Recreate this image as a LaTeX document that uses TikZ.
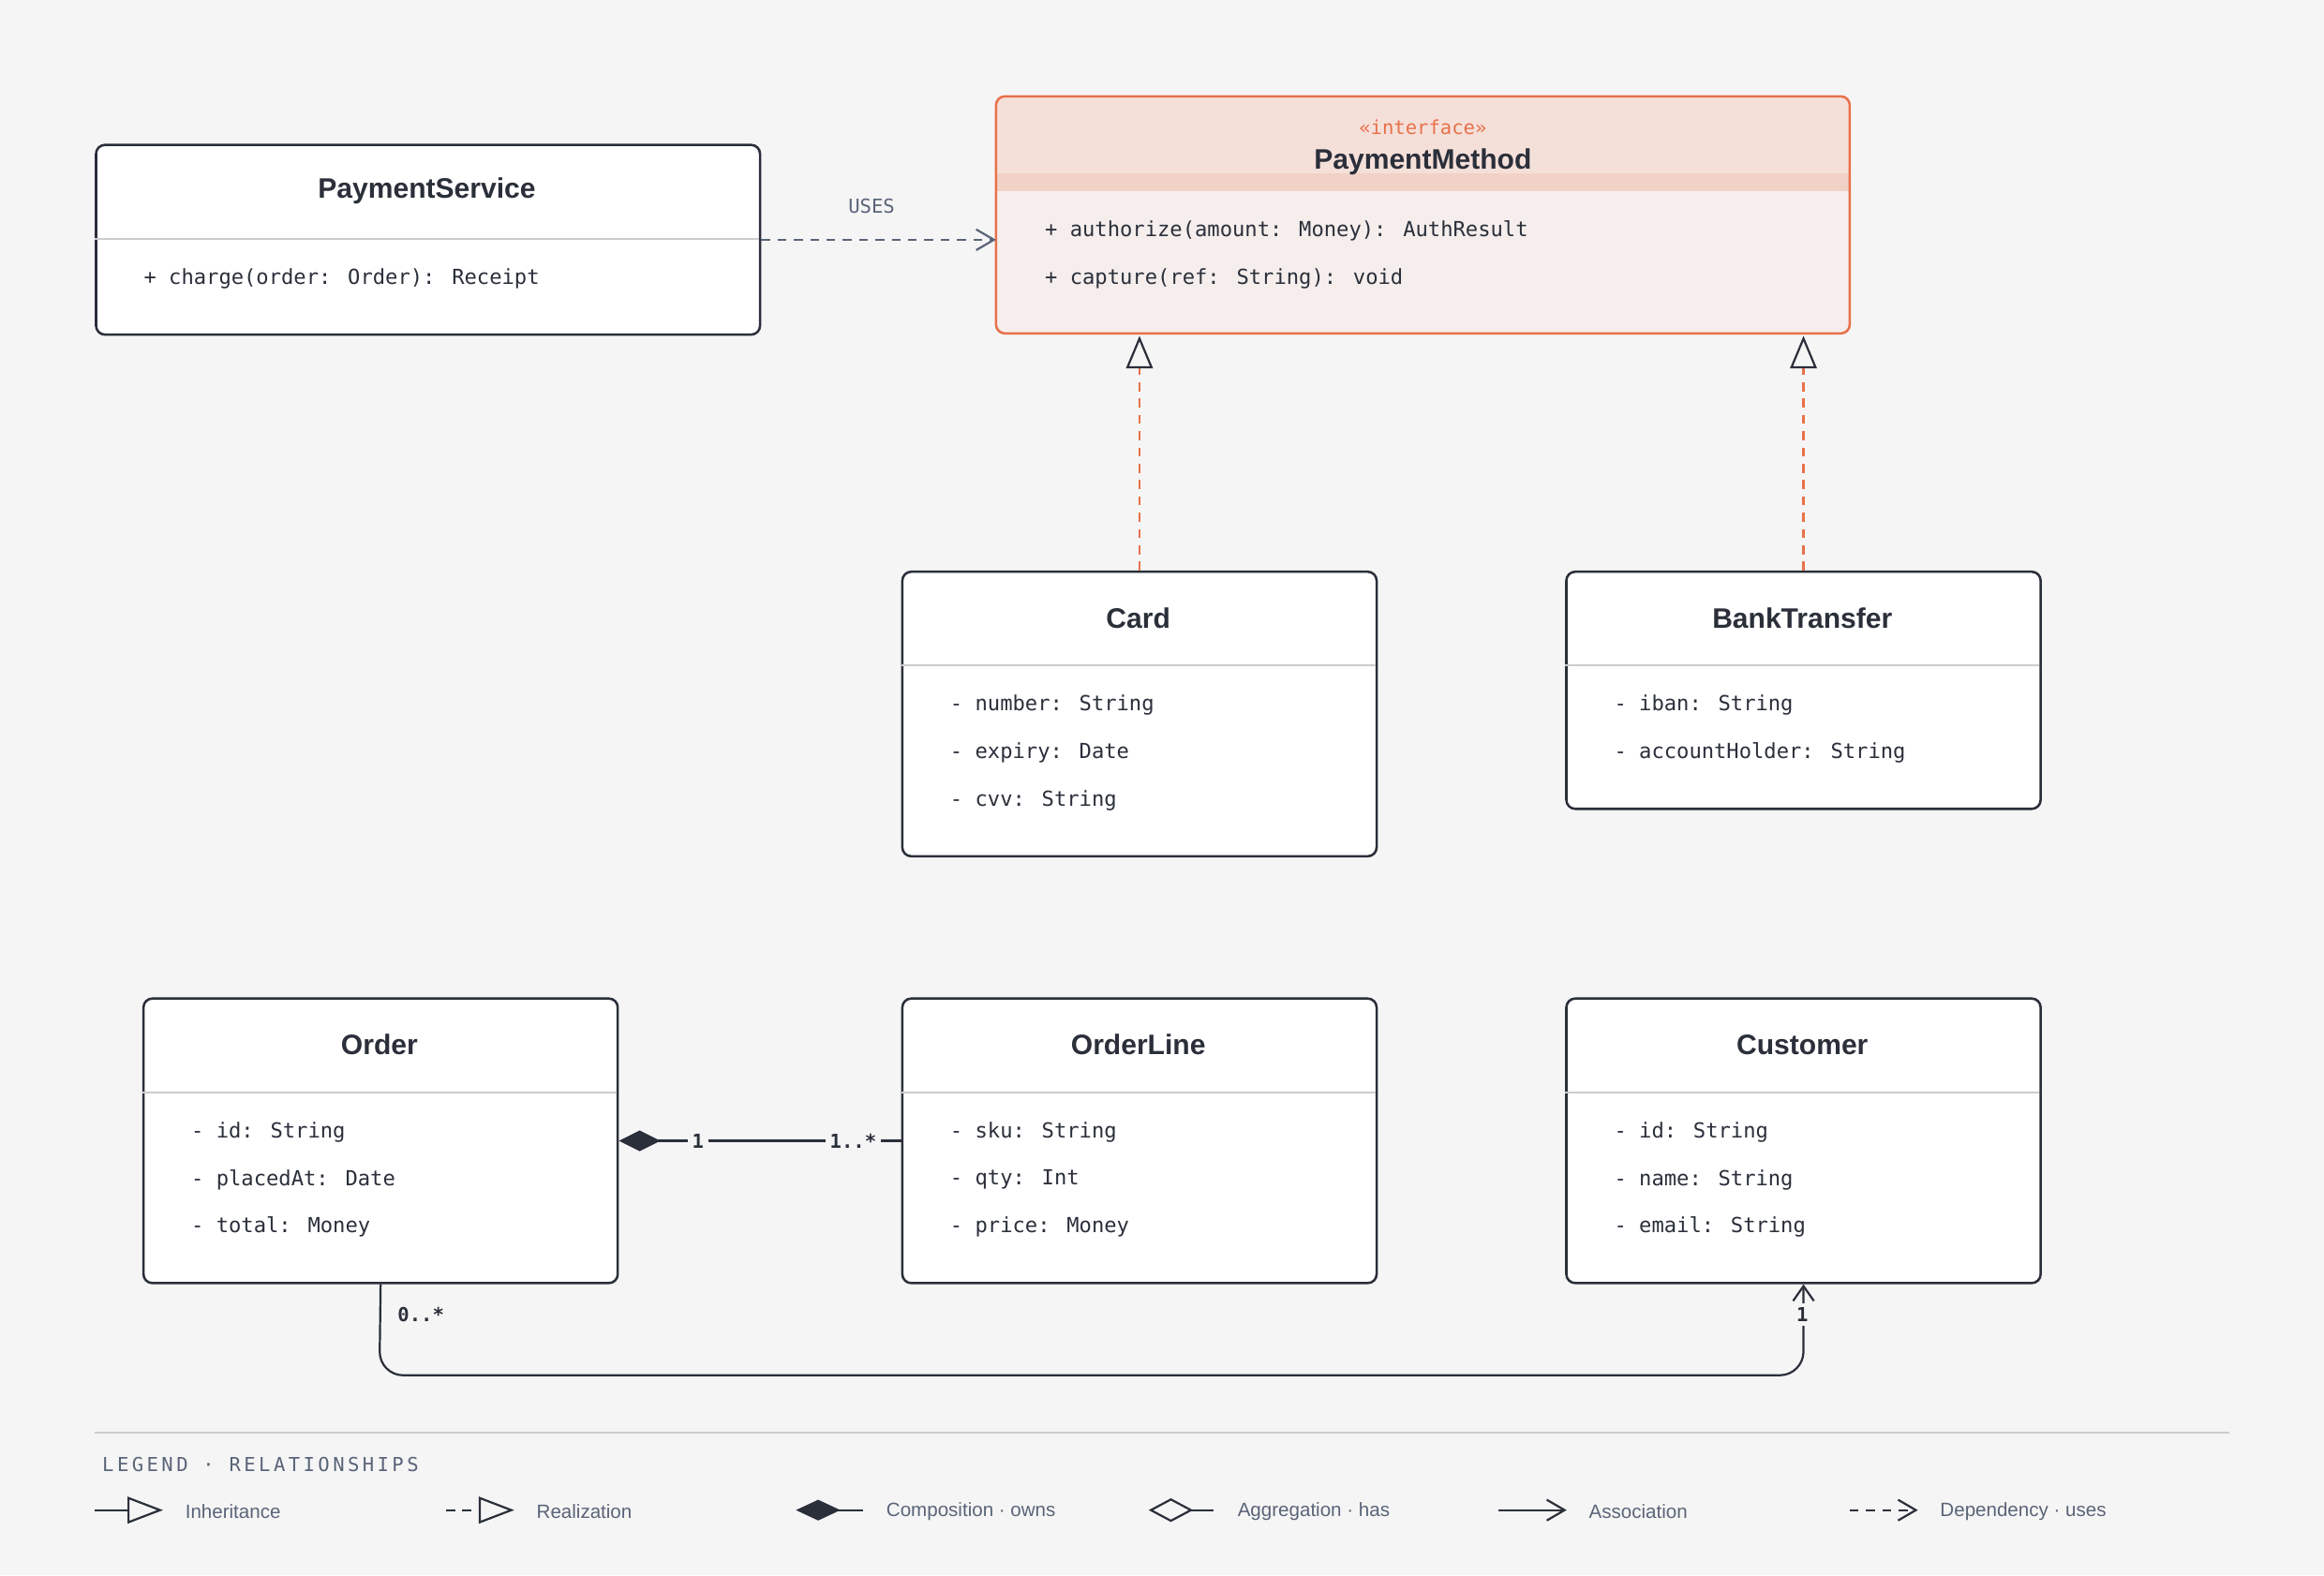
\documentclass[tikz,border=0pt]{standalone}
\usepackage{fontspec}
\setmainfont{Liberation Sans}
\newfontfamily\mono{DejaVu Sans Mono}
\usetikzlibrary{arrows.meta}
\definecolor{bg}{HTML}{F5F5F5}
\definecolor{ink}{HTML}{2A2F3A}
\definecolor{org}{HTML}{E8714A}
\definecolor{hdr}{HTML}{F5E0D9}
\definecolor{hdr2}{HTML}{F2D2C6}
\definecolor{bdy}{HTML}{F5EEEC}
\definecolor{gry}{HTML}{5A6478}
\definecolor{div}{HTML}{CCCCCC}
\tikzset{
  x=0.5pt,y=-0.5pt,
  box/.style={draw=ink,line width=0.8pt,fill=white,rounded corners=3pt,anchor=north west,inner sep=0},
  ttl/.style={font=\bfseries\fontsize{9.5}{11}\selectfont,text=ink},
  attr/.style={font=\mono\fontsize{7}{8}\selectfont,text=ink,anchor=west},
  dv/.style={draw=div,line width=0.6pt},
  lbl/.style={font=\mono\bfseries\fontsize{6.5}{7}\selectfont,text=ink,fill=bg,inner sep=1.5pt},
  leg/.style={font=\fontsize{6.5}{8}\selectfont,text=gry,anchor=west},
  lline/.style={draw=ink,line width=0.7pt},
}
\begin{document}
\begin{tikzpicture}
\fill[bg] (0,0) rectangle (1568,1063);
\useasboundingbox (0,0) rectangle (1568,1063);
% PaymentService
\node[box,minimum width=224pt,minimum height=64pt] (ps) at (64,97) {};
\draw[dv] (64,161) -- (512,161);
\node[ttl] at (288,129) {PaymentService};
\node[attr] at (90,188) {+ charge(order: Order): Receipt};
% PaymentMethod
\node[box,fill=bdy,draw=none,minimum width=288pt,minimum height=80pt] (pm) at (672,65) {};
\begin{scope}
\clip[rounded corners=3pt] (672,65) rectangle (1248,225);
\fill[hdr] (672,65) rectangle (1248,129);
\fill[hdr2] (672,117) rectangle (1248,129);
\end{scope}
\draw[org,line width=0.8pt,rounded corners=3pt] (672,65) rectangle (1248,225);
\node[font=\mono\fontsize{6.5}{7}\selectfont,text=org] at (960,86) {«interface»};
\node[ttl] at (960,109) {PaymentMethod};
\node[attr] at (698,156) {+ authorize(amount: Money): AuthResult};
\node[attr] at (698,188) {+ capture(ref: String): void};
% Card
\node[box,minimum width=160pt,minimum height=96pt] (card) at (608,385) {};
\draw[dv] (608,449) -- (928,449);
\node[ttl] at (768,417) {Card};
\node[attr] at (634,476) {- number: String};
\node[attr] at (634,508) {- expiry: Date};
\node[attr] at (634,540) {- cvv: String};
% BankTransfer
\node[box,minimum width=160pt,minimum height=80pt] (bank) at (1056,385) {};
\draw[dv] (1056,449) -- (1376,449);
\node[ttl] at (1216,417) {BankTransfer};
\node[attr] at (1082,476) {- iban: String};
\node[attr] at (1082,508) {- accountHolder: String};
% Order
\node[box,minimum width=160pt,minimum height=96pt] (order) at (96,673) {};
\draw[dv] (96,737) -- (416,737);
\node[ttl] at (256,705) {Order};
\node[attr] at (122,764) {- id: String};
\node[attr] at (122,796) {- placedAt: Date};
\node[attr] at (122,828) {- total: Money};
% OrderLine
\node[box,minimum width=160pt,minimum height=96pt] (ol) at (608,673) {};
\draw[dv] (608,737) -- (928,737);
\node[ttl] at (768,705) {OrderLine};
\node[attr] at (634,764) {- sku: String};
\node[attr] at (634,796) {- qty: Int};
\node[attr] at (634,828) {- price: Money};
% Customer
\node[box,minimum width=160pt,minimum height=96pt] (cust) at (1056,673) {};
\draw[dv] (1056,737) -- (1376,737);
\node[ttl] at (1216,705) {Customer};
\node[attr] at (1082,764) {- id: String};
\node[attr] at (1082,796) {- name: String};
\node[attr] at (1082,828) {- email: String};
% Realizations
\draw[org,line width=0.7pt,dash pattern=on 3pt off 2.5pt,-{Triangle[open,length=11pt,width=9pt,color=ink]}] (card.north) -- (card.north |- pm.south);
\draw[org,line width=0.7pt,dash pattern=on 3pt off 2.5pt,-{Triangle[open,length=11pt,width=9pt,color=ink]}] (bank.north) -- (bank.north |- pm.south);
% Uses
\draw[gry,line width=0.7pt,dash pattern=on 3pt off 2.5pt,-{Straight Barb[length=6pt,width=7pt]}] (ps.east) -- (ps.east -| pm.west);
\node[font=\mono\fontsize{6.5}{7}\selectfont,text=gry] (uses) at (588,139) {USES};
% Composition
\draw[lline,{Diamond[length=14pt,width=7pt,fill=ink]}-] (order.east) -- (ol.west)
  node[lbl,pos=0.28] (m1) {1} node[lbl,pos=0.83] (m2) {1..*};
% Association
\coordinate (a1) at (256,928);
\draw[lline,rounded corners=8pt,-{Straight Barb[length=5pt,width=7pt]}] (order.south) -- (a1) -- (a1 -| cust.south) -- (cust.south);
\node[lbl,fill=none] (m3) at (284,887) {0..*};
\node[lbl] (m4) at (1216,887) {1};
% Legend
\draw[div,line width=0.6pt] (64,967) -- (1504,967);
\node[font=\mono\fontsize{6.5}{7}\selectfont,text=gry,anchor=west] (lg) at (62,988) {L\,E\,G\,E\,N\,D \,·\, R\,E\,L\,A\,T\,I\,O\,N\,S\,H\,I\,P\,S};
\coordinate (l1a) at (64,1019); \coordinate (l1b) at (110,1019);
\draw[lline,-{Triangle[open,length=12pt,width=9pt]}] (l1a) -- (l1b);
\node[leg] (t1) at (118,1020) {Inheritance};
\coordinate (l2a) at (301,1019); \coordinate (l2b) at (347,1019);
\draw[lline,dash pattern=on 3pt off 2.5pt,-{Triangle[open,length=12pt,width=9pt]}] (l2a) -- (l2b);
\node[leg] (t2) at (355,1020) {Realization};
\coordinate (l3a) at (537,1019); \coordinate (l3b) at (582,1019);
\draw[lline,{Diamond[length=15pt,width=7pt,fill=ink]}-] (l3a) -- (l3b);
\node[leg] (t3) at (591,1020) {Composition · owns};
\coordinate (l4a) at (775,1019); \coordinate (l4b) at (819,1019);
\draw[lline,{Diamond[open,length=15pt,width=8pt]}-] (l4a) -- (l4b);
\node[leg] (t4) at (828,1020) {Aggregation · has};
\coordinate (l5a) at (1011,1019); \coordinate (l5b) at (1057,1019);
\draw[lline,-{Straight Barb[length=6pt,width=7pt]}] (l5a) -- (l5b);
\node[leg] (t5) at (1065,1020) {Association};
\coordinate (l6a) at (1248,1019); \coordinate (l6b) at (1294,1019);
\draw[lline,dash pattern=on 3pt off 2.5pt,-{Straight Barb[length=6pt,width=7pt]}] (l6a) -- (l6b);
\node[leg] (t6) at (1302,1020) {Dependency · uses};
\end{tikzpicture}
\end{document}
